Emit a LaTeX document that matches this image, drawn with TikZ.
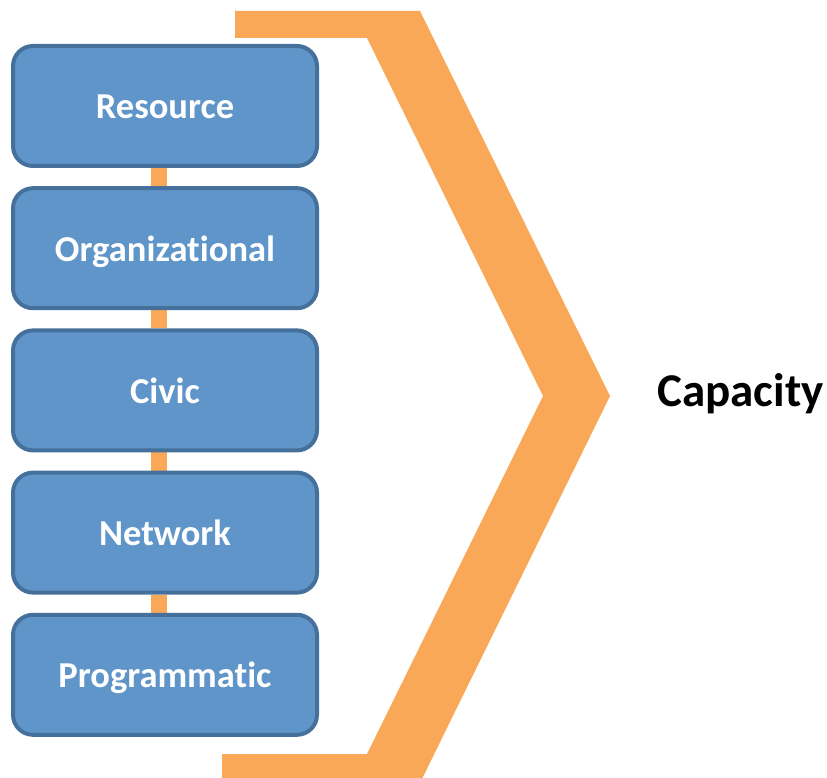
\documentclass[tikz,border=0pt]{standalone}
\usepackage{fontspec}
\setmainfont{Carlito}[Ligatures=NoCommon]
\usetikzlibrary{backgrounds}
\definecolor{boxfill}{HTML}{5F95C8}
\definecolor{boxline}{HTML}{45709C}
\definecolor{orng}{HTML}{F9A857}
\tikzset{
  layerbox/.style={draw=boxline, fill=boxfill, line width=4pt, rounded corners=20pt,
    minimum width=304pt, minimum height=120pt, inner sep=0pt,
    text height=26pt, text depth=0pt, text=white,
    font=\fontsize{36.5}{40}\selectfont\bfseries},
  conn/.style={draw=orng, line width=16pt},
  bracket/.style={fill=orng, draw=none}
}
\begin{document}
\begin{tikzpicture}[x=1pt, y=-1pt]
\useasboundingbox (0,0) rectangle (827,778);
\begin{scope}
\clip (0,0) rectangle (827,778);
\fill[bracket] (235,11) -- (420,11) -- (610,396) -- (420,783) -- (222,783) -- (222,754) -- (367,754) -- (543,396) -- (367,38) -- (235,38) -- cycle;
\end{scope}
\node[layerbox] (res) at (165,106) {Resource};
\node[layerbox] (org) at (165,248.2) {Organizational};
\node[layerbox] (civ) at (165,390.4) {Civic};
\node[layerbox] (net) at (165,532.6) {Network};
\node[layerbox] (pro) at (165,674.8) {Programmatic};
\coordinate (cx) at (159,0);
\begin{scope}[on background layer]
\draw[conn] (res.south -| cx) -- (org.north -| cx);
\draw[conn] (org.south -| cx) -- (civ.north -| cx);
\draw[conn] (civ.south -| cx) -- (net.north -| cx);
\draw[conn] (net.south -| cx) -- (pro.north -| cx);
\end{scope}
\node[anchor=base, inner sep=0pt, font=\fontsize{47}{52}\selectfont\bfseries] (cap) at (740.5,406) {Capacity};
\end{tikzpicture}
\end{document}
